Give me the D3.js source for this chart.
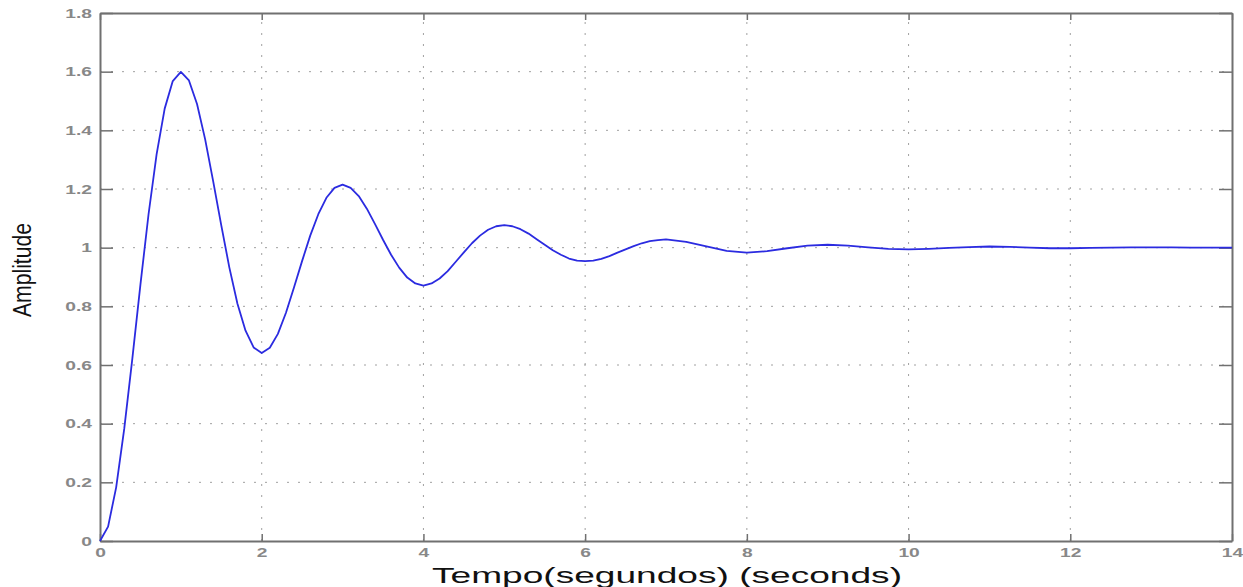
<!DOCTYPE html>
<html>
<head>
<meta charset="utf-8">
<script src="https://cdn.jsdelivr.net/npm/d3@7"></script>
<style>
  body { margin: 0; background: #fff; }
  svg { display: block; }
  text { font-family: "Liberation Sans", Arial, sans-serif; }
</style>
</head>
<body>
<svg id="svg" width="1243" height="587"></svg>
<script>
const svg = d3.select('svg');

// step response
const time = [
  0, 0.1, 0.2, 0.3, 0.4, 0.5, 0.6, 0.7, 0.8, 0.9,
  1.0, 1.1, 1.2, 1.3, 1.4, 1.5, 1.6, 1.7, 1.8, 1.9,
  2.0, 2.1, 2.2, 2.3, 2.4, 2.5, 2.6, 2.7, 2.8, 2.9,
  3.0, 3.1, 3.2, 3.3, 3.4, 3.5, 3.6, 3.7, 3.8, 3.9,
  4.0, 4.1, 4.2, 4.3, 4.4, 4.5, 4.6, 4.7, 4.8, 4.9,
  5.0, 5.1, 5.2, 5.3, 5.4, 5.5, 5.6, 5.7, 5.8, 5.9,
  6.0, 6.1, 6.2, 6.3, 6.4, 6.5, 6.6, 6.7, 6.8, 6.9,
  7.0, 7.25, 7.5, 7.75, 8.0, 8.25, 8.5, 8.75, 9.0, 9.25,
  9.5, 9.75, 10.0, 10.25, 10.5, 10.75, 11.0, 11.25, 11.5, 11.75,
  12.0, 12.25, 12.5, 12.75, 13.0, 13.25, 13.5, 13.75, 14.0
];
const amplitude = [
  0, 0.049, 0.183, 0.383, 0.622, 0.874, 1.113, 1.318, 1.474, 1.568,
  1.599, 1.570, 1.490, 1.370, 1.226, 1.076, 0.932, 0.809, 0.717, 0.660,
  0.641, 0.659, 0.706, 0.778, 0.865, 0.955, 1.041, 1.114, 1.170, 1.204,
  1.215, 1.204, 1.176, 1.133, 1.081, 1.027, 0.976, 0.932, 0.898, 0.878,
  0.871, 0.878, 0.895, 0.920, 0.952, 0.984, 1.015, 1.041, 1.061, 1.073,
  1.077, 1.073, 1.063, 1.048, 1.029, 1.010, 0.991, 0.976, 0.963, 0.956,
  0.954, 0.956, 0.962, 0.971, 0.983, 0.994, 1.005, 1.015, 1.022, 1.026,
  1.028, 1.020, 1.004, 0.989, 0.983, 0.988, 0.998, 1.007, 1.010, 1.007,
  1.001, 0.996, 0.994, 0.996, 0.999, 1.002, 1.004, 1.003, 1.000, 0.998,
  0.998, 0.999, 1.000, 1.001, 1.001, 1.001, 1.000, 1.000, 1.000
];
const xTicks = [0, 2, 4, 6, 8, 10, 12, 14];
const yTicks = [0, 0.2, 0.4, 0.6, 0.8, 1, 1.2, 1.4, 1.6, 1.8];
const xTitle = 'Tempo(segundos) (seconds)';
const yTitle = 'Amplitude';

const plotLeft = 100, plotRight = 1232, plotTop = 13, plotBottom = 541;

const x = d3.scaleLinear().domain([0, 14]).range([plotLeft, plotRight]);
const y = d3.scaleLinear().domain([0, 1.8]).range([plotBottom, plotTop]);

const axisColor = '#707070';
const labelColor = '#888';

// stretch text wide like the picture
function widen(sel, k) {
  sel.each(function () {
    const w = this.getComputedTextLength();
    d3.select(this).attr('textLength', w * k).attr('lengthAdjust', 'spacingAndGlyphs');
  });
}

// grid
const grid = svg.append('g')
  .attr('stroke', '#a0a0a0')
  .attr('stroke-width', 1)
  .attr('stroke-dasharray', '2,9');
grid.selectAll('.gx').data(xTicks.slice(1, -1)).enter().append('line')
  .attr('x1', d => x(d)).attr('x2', d => x(d))
  .attr('y1', plotBottom).attr('y2', plotTop);
grid.selectAll('.gy').data(yTicks.slice(1, -1)).enter().append('line')
  .attr('y1', d => y(d)).attr('y2', d => y(d))
  .attr('x1', plotLeft).attr('x2', plotRight);

// axes, inward ticks on all four sides
const bottomAxis = d3.axisBottom(x).tickValues(xTicks).tickSizeInner(-7).tickSizeOuter(0).tickFormat(d3.format('d'));
const topAxis = d3.axisTop(x).tickValues(xTicks).tickSizeInner(-7).tickSizeOuter(0).tickFormat('');
const leftAxis = d3.axisLeft(y).tickValues(yTicks).tickSizeInner(-13).tickSizeOuter(0).tickFormat(d => d3.format('')(+d.toFixed(1)));
const rightAxis = d3.axisRight(y).tickValues(yTicks).tickSizeInner(-13).tickSizeOuter(0).tickFormat('');

const gb = svg.append('g').attr('transform', `translate(0,${plotBottom})`).call(bottomAxis);
const gt = svg.append('g').attr('transform', `translate(0,${plotTop})`).call(topAxis);
const gl = svg.append('g').attr('transform', `translate(${plotLeft},0)`).call(leftAxis);
const gr = svg.append('g').attr('transform', `translate(${plotRight},0)`).call(rightAxis);

[gb, gt, gl, gr].forEach(g => {
  g.select('.domain').attr('stroke', axisColor).attr('stroke-width', 2);
  g.selectAll('.tick line').attr('stroke', axisColor).attr('stroke-width', 1.5);
});

gb.selectAll('.tick text')
  .attr('y', 7).attr('dy', '0.71em')
  .attr('fill', labelColor).attr('font-size', 12).attr('font-weight', 'bold')
  .call(widen, 1.6);
gl.selectAll('.tick text')
  .attr('x', -8).attr('dy', '0.35em')
  .attr('fill', labelColor).attr('font-size', 12).attr('font-weight', 'bold')
  .call(widen, 1.6);

// response line
const line = d3.line()
  .x((d, i) => x(time[i]))
  .y(d => y(d));

svg.append('path')
  .datum(amplitude)
  .attr('fill', 'none')
  .attr('stroke', '#2b2be0')
  .attr('stroke-width', 1.8)
  .attr('stroke-linejoin', 'round')
  .attr('d', line);

// titles
svg.append('text')
  .attr('x', (plotLeft + plotRight) / 2 + 1)
  .attr('y', 583)
  .attr('text-anchor', 'middle')
  .attr('font-size', 22)
  .attr('fill', '#111')
  .attr('textLength', 470)
  .attr('lengthAdjust', 'spacingAndGlyphs')
  .text(xTitle);

svg.append('text')
  .attr('transform', 'translate(31,270) rotate(-90)')
  .attr('text-anchor', 'middle')
  .attr('font-size', 25)
  .attr('fill', '#111')
  .attr('textLength', 94)
  .attr('lengthAdjust', 'spacingAndGlyphs')
  .text(yTitle);
</script>
</body>
</html>
